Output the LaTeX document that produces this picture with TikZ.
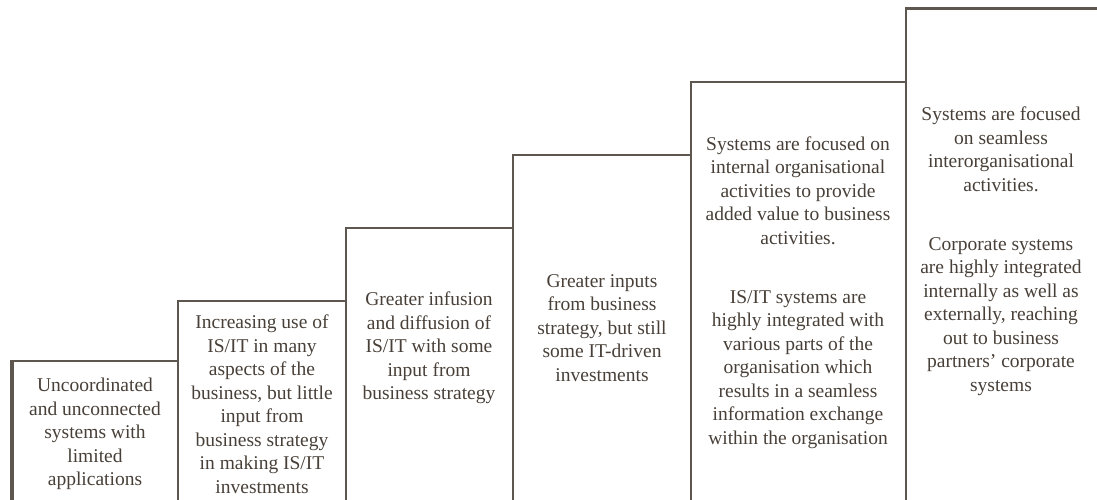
\documentclass[tikz,border=0pt]{standalone}
\usepackage{fontspec}
\setmainfont{Liberation Serif}
\definecolor{stairline}{RGB}{94,87,80}
\definecolor{steptext}{RGB}{72,64,56}

\begin{document}
\begin{tikzpicture}[x=1pt, y=-1pt,
        edge/.style={draw=stairline, line width=2pt},
        stepnote/.style={text=steptext, align=center, inner sep=0pt,
                         font=\fontsize{19.5}{23.5}\selectfont}
    ]
        \useasboundingbox (0,0) rectangle (1097,500);

        % Draw the staircase: each riser goes down to the floor
        \draw[edge, line width=3.5pt] (12,500) -- (12,360);
        \draw[edge] (11,361) -- (178,361);
        \foreach \xa/\ya/\xb in {178/301/346, 346/228/513, 513/155/691, 691/82/906}
            \draw[edge] (\xa,500) -- (\xa,\ya) -- (\xb,\ya);
        \draw[edge] (906,500) -- (906,9);
        \draw[edge, line width=3pt] (905,9) -- (1097,9);

        % Add the text of each step
        \node[stepnote] (uncoord) at (95,434) {Uncoordinated\\and unconnected\\systems with\\limited\\applications};
        \node[stepnote] (increasing) at (262,404) {Increasing use of\\IS/IT in many\\aspects of the\\business, but little\\input from\\business strategy\\in making IS/IT\\investments};
        \node[stepnote] (infusion) at (429,348) {Greater infusion\\and diffusion of\\IS/IT with some\\input from\\business strategy};
        \node[stepnote] (inputs) at (602,328) {Greater inputs\\from business\\strategy, but still\\some IT-driven\\investments};
        \node[stepnote] (internal) at (798,292.5) {Systems are focused on\\internal organisational\\activities to provide\\added value to business\\activities.\\[35.5pt]IS/IT systems are\\highly integrated with\\various parts of the\\organisation which\\results in a seamless\\information exchange\\within the organisation};
        \node[stepnote] (interorg) at (1001,251) {Systems are focused\\on seamless\\interorganisational\\activities.\\[35.5pt]Corporate systems\\are highly integrated\\internally as well as\\externally, reaching\\out to business\\partners' corporate\\systems};

    \end{tikzpicture}
\end{document}
